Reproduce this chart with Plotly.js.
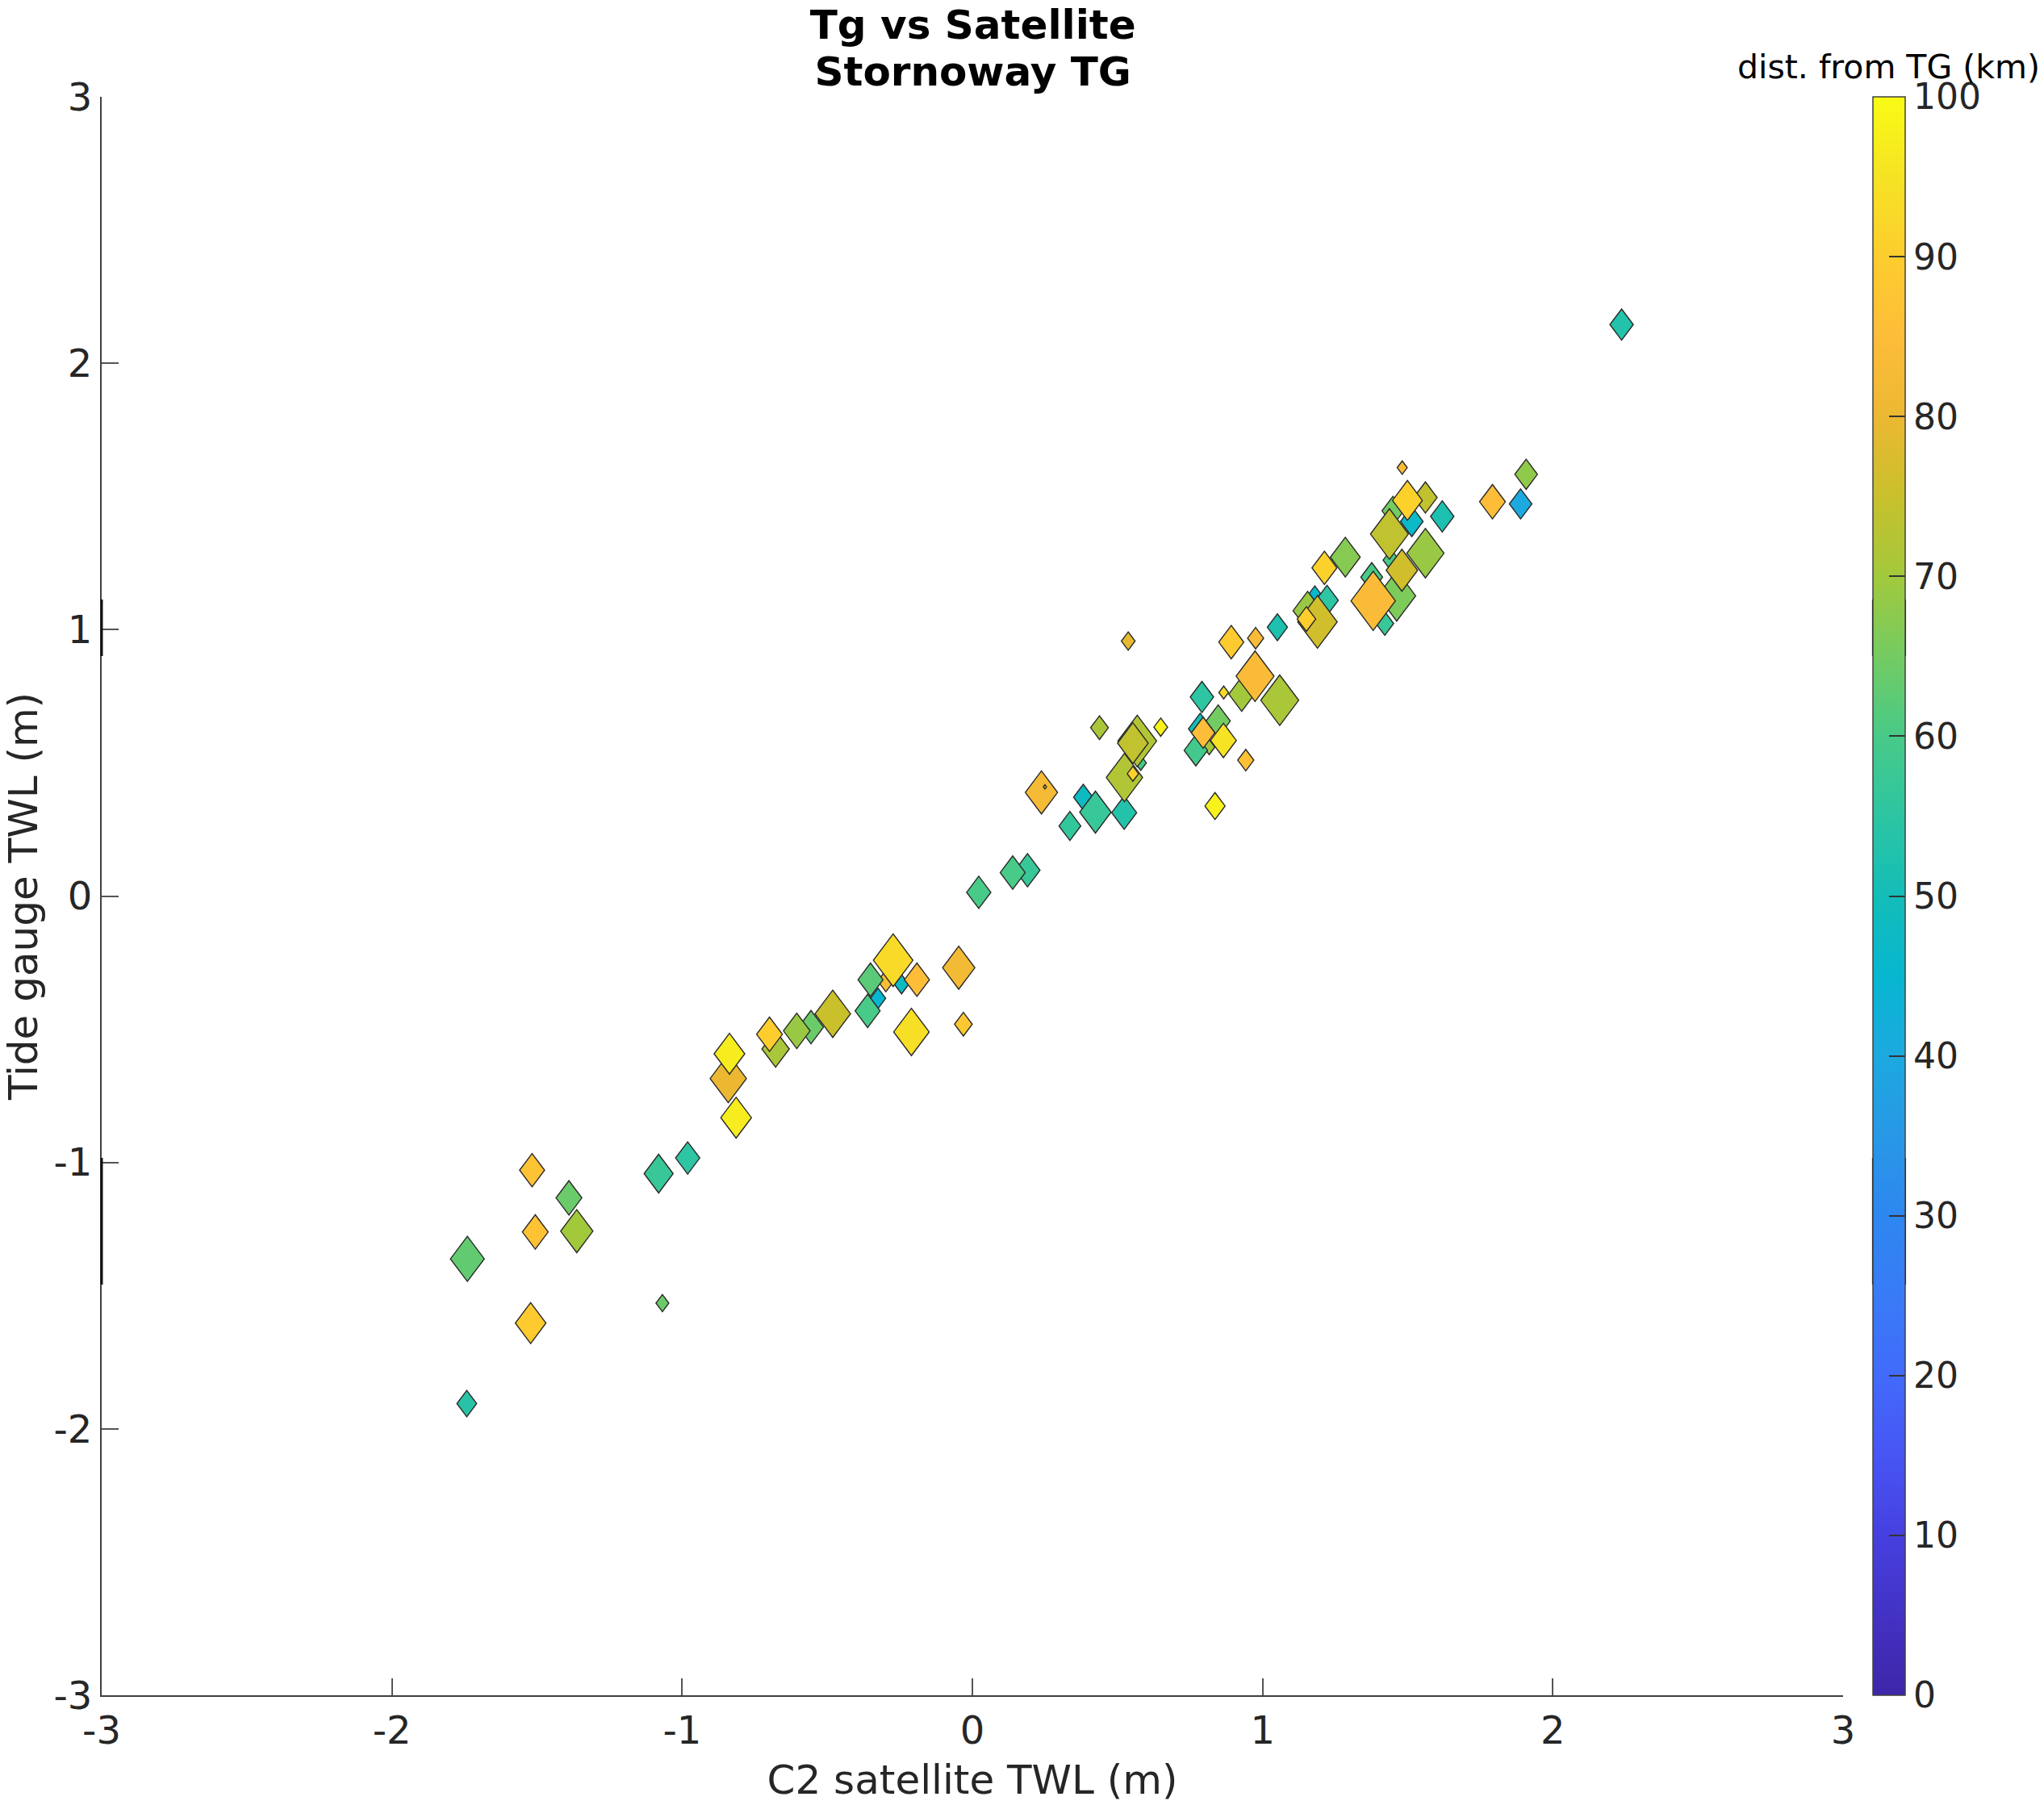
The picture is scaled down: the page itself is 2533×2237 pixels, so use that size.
<!DOCTYPE html>
<html>
<head>
<meta charset="utf-8">
<script src="https://cdn.plot.ly/plotly-3.0.1.min.js"></script>
<style>
  html, body { margin: 0; padding: 0; background: #fff; }
</style>
</head>
<body>
<div id="chart" style="width:2533px;height:2237px;"></div>
<script>
// C2 satellite TWL (m), in draw order (later ones sit on top)
const satTwl = [-1.740,-1.742,-1.522,-1.517,-1.506,-1.390,-1.363,-1.081,-0.981,-1.068,-0.814,-0.841,-0.837,-0.678,-0.699,-0.556,-0.605,-0.481,-0.325,-0.361,-0.298,-0.244,-0.351,-0.273,-0.191,-0.210,-0.047,-0.031,0.022,0.190,0.139,0.238,0.250,0.336,0.382,0.424,0.523,0.580,0.568,0.524,0.553,0.553,0.537,0.438,0.649,0.785,0.816,0.770,0.847,0.795,0.865,0.942,0.836,0.791,0.866,0.928,0.974,1.059,0.892,0.976,1.051,1.180,1.222,1.155,1.189,1.151,1.213,1.285,1.421,1.376,1.462,1.381,1.443,1.561,1.480,1.514,1.449,1.561,1.499,1.437,1.619,1.481,1.792,1.889,1.908,2.237];
// Tide gauge TWL (m)
const tgTwl = [-1.362,-1.905,-1.603,-1.029,-1.261,-1.133,-1.258,-1.042,-0.983,-1.528,-0.832,-0.685,-0.592,-0.574,-0.519,-0.492,-0.506,-0.442,-0.384,-0.431,-0.319,-0.331,-0.314,-0.241,-0.314,-0.510,-0.269,-0.481,0.014,0.097,0.088,0.389,0.410,0.263,0.371,0.315,0.313,0.500,0.582,0.445,0.574,0.459,0.957,0.632,0.634,0.628,0.559,0.547,0.657,0.613,0.584,0.510,0.338,0.747,0.764,0.758,0.825,0.735,0.953,0.968,1.009,1.136,1.110,1.071,1.029,1.040,1.232,1.272,1.023,1.197,1.127,1.108,1.261,1.287,1.223,1.406,1.446,1.496,1.485,1.359,1.425,1.608,1.480,1.472,1.583,2.145];
// distance from TG (km), from the marker colours
const distKm = [63,54,89,87,87,64,70,57,55,64,97,80,97,71,90,64,69,75,45,60,84,48,62,93,85,94,82,88,60,57,60,83,75,56,48,57,53,60,72,72,74,91,79,71,98,50,70,59,65,85,95,86,98,55,93,70,84,71,89,84,52,46,55,69,76,90,91,67,57,60,66,84,60,69,76,47,65,74,91,74,52,84,85,40,68,53];
// marker width
const markerW = [42,24.5,38,31,32,32,40,36,30,16,38,45,38,34,32,31,33,44,19,31,20,18,31,49,31,44,40,22,30,31,31,40,4,27,24,39,31,14,48,45,38,14,17,22,17,29,14,29,30,29,32,20,25,29,12,32,47,47,31,20,25,14,28,36,49,23,31,37,22,27,47,55,20,46,39,28,27,29,37,47,29,12.5,32,28,28,29];

const axisTicks = [-3,-2,-1,0,1,2,3];
const axisLabels = ['-3','-2','-1','0','1','2','3'];
const cbarTicks = [0,10,20,30,40,50,60,70,80,90,100];
const cbarLabels = cbarTicks.map(String);

// darker stretches on the axis and bar edges, paper fractions
const darkEdgeX = [0, 1.0171, 1.0357];
const darkEdgeY = [[0.6502, 0.6855], [0.2569, 0.3362]];

const FONT = '"DejaVu Sans", sans-serif';
const ASPECT_X = 1.5; // reference diamonds are 3:4, plotly's diamond-tall is 1:2

// parula-like map, as it looks on the colour bar
const parula = [
    [0.00,'#3e26a8'],[0.05,'#4332c4'],[0.10,'#4640e0'],[0.15,'#4755f3'],[0.20,'#426bfb'],
    [0.25,'#387bf6'],[0.30,'#2e87f0'],[0.35,'#2898e6'],[0.40,'#1ca9df'],[0.45,'#07b6d0'],
    [0.50,'#13bdb8'],[0.55,'#2dc5a2'],[0.60,'#48ca88'],[0.65,'#74cb62'],[0.70,'#a2c93c'],
    [0.75,'#c9c02c'],[0.80,'#ecb832'],[0.85,'#fdbd39'],[0.90,'#fdcd2e'],[0.95,'#f6e324'],[1.00,'#f9fb15']
];

const trace = {
    x: satTwl,
    y: tgTwl,
    type: 'scatter',
    mode: 'markers',
    cliponaxis: false,
    marker: {
        symbol: 'diamond-tall',
        size: markerW.map(w => w / (0.7 * ASPECT_X)),
        opacity: 1,
        color: distKm,
        cmin: 0,
        cmax: 100,
        colorscale: parula,
        line: { color: '#2a2a2a', width: 1.4 },
        showscale: true,
        colorbar: {
            x: 1.0171,
            xanchor: 'left',
            y: 0,
            yanchor: 'bottom',
            len: 1,
            lenmode: 'fraction',
            thickness: 40,
            thicknessmode: 'pixels',
            xpad: 0,
            ypad: 0,
            outlinecolor: '#404040',
            outlinewidth: 1.5,
            ticks: 'inside',
            ticklen: 20,
            tickwidth: 2,
            tickcolor: '#333333',
            tickmode: 'array',
            tickvals: cbarTicks,
            ticktext: cbarLabels,
            tickfont: { family: FONT, size: 44, color: '#262626' }
        }
    }
};

const edgeShapes = [];
darkEdgeX.forEach(function(x) {
    darkEdgeY.forEach(function(seg) {
        edgeShapes.push({
            type: 'line', xref: 'paper', yref: 'paper',
            x0: x, x1: x, y0: seg[0], y1: seg[1],
            line: { color: '#111111', width: x === 0 ? 3 : 2 }
        });
    });
});

const layout = {
    width: 2533,
    height: 2237,
    paper_bgcolor: '#ffffff',
    plot_bgcolor: '#ffffff',
    margin: { l: 126, r: 249, t: 120, b: 136 },
    showlegend: false,
    font: { family: FONT, color: '#262626' },
    title: {
        text: 'Tg vs Satellite<br>Stornoway TG',
        font: { family: FONT, size: 50, weight: 'bold', color: '#000000' },
        x: 0.476,
        xanchor: 'center',
        y: 0.9787,
        yanchor: 'middle',
        yref: 'container'
    },
    xaxis: {
        range: [-3, 3],
        tickmode: 'array',
        tickvals: axisTicks,
        ticktext: axisLabels,
        ticks: 'inside',
        ticklen: 21,
        tickwidth: 2,
        tickcolor: '#555555',
        showgrid: false,
        zeroline: false,
        showline: true,
        linecolor: '#404040',
        linewidth: 2,
        mirror: false,
        tickfont: { family: FONT, size: 48, color: '#262626' },
        title: { text: 'C2 satellite TWL (m)', font: { family: FONT, size: 50, color: '#262626' }, standoff: 17 }
    },
    yaxis: {
        range: [-3, 3],
        tickmode: 'array',
        tickvals: axisTicks,
        ticktext: axisLabels,
        ticks: 'inside',
        ticklen: 21,
        tickwidth: 2,
        tickcolor: '#555555',
        showgrid: false,
        zeroline: false,
        showline: true,
        linecolor: '#404040',
        linewidth: 2,
        mirror: false,
        tickfont: { family: FONT, size: 48, color: '#262626' },
        title: { text: 'Tide gauge TWL (m)', font: { family: FONT, size: 50, color: '#262626' }, standoff: 20 }
    },
    shapes: edgeShapes,
    annotations: [{
        text: 'dist. from TG (km)',
        xref: 'paper',
        yref: 'paper',
        x: 1.0264,
        y: 1.0058,
        xanchor: 'center',
        yanchor: 'bottom',
        showarrow: false,
        font: { family: FONT, size: 41, color: '#000000' }
    }]
};

// plotly has no 3:4 diamond, widen diamond-tall in place
function widenDiamonds() {
    document.querySelectorAll('#chart .scatterlayer path.point').forEach(function(p) {
        const t = p.getAttribute('transform') || '';
        if (t.indexOf('scale') < 0) {
            p.setAttribute('transform', t + ' scale(' + ASPECT_X + ',1)');
            p.style.vectorEffect = 'non-scaling-stroke';
        }
    });
    // title lines sit closer together than plotly's 1.3em
    document.querySelectorAll('#chart .gtitle tspan.line').forEach(function(l, i) {
        if (i > 0) l.setAttribute('dy', '1.16em');
    });
}

Plotly.newPlot('chart', [trace], layout, { displayModeBar: false, responsive: false }).then(function(gd) {
    widenDiamonds();
    gd.on('plotly_afterplot', widenDiamonds);
});
</script>
</body>
</html>
